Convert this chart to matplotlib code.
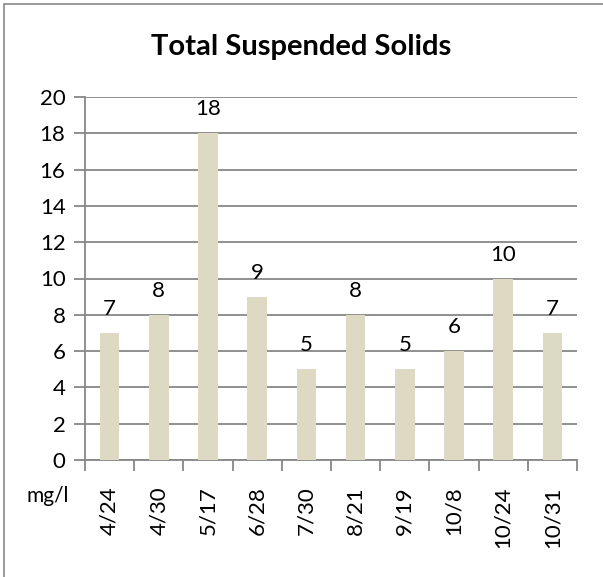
import matplotlib
matplotlib.use('Agg')
import matplotlib.pyplot as plt
from matplotlib.patches import Rectangle

plt.rcParams['font.family'] = ['Lato', 'DejaVu Sans']

# sampling dates and TSS results (mg/l)
dates = ['4/24', '4/30', '5/17', '6/28', '7/30', '8/21', '9/19', '10/8', '10/24', '10/31']
tss = [7, 8, 18, 9, 5, 8, 5, 6, 10, 7]
yticks = [0, 2, 4, 6, 8, 10, 12, 14, 16, 18, 20]

W, H = 603, 577
fig = plt.figure(figsize=(W / 100, H / 100), dpi=100)

# chart border (left/top edges visible)
fig.patches.append(Rectangle((4 / W, -0.01), 1.02, 1.01 - 4 / H,
                             transform=fig.transFigure, fill=False,
                             edgecolor='#898989', linewidth=1.2))

ax = fig.add_axes([85 / W, 1 - 460 / H, (577 - 85) / W, (460 - 97) / H])

grid_col = '#878787'
x = list(range(len(dates)))
ax.bar(x, tss, width=0.4, color='#ddd9c3', zorder=3)

for xi, v in zip(x, tss):
    ax.annotate(str(v), (xi, v), xytext=(0, 10), textcoords='offset points',
                ha='center', va='bottom', fontsize=16, color='black')

ax.set_xlim(-0.5, len(dates) - 0.5)
ax.set_ylim(0, 20)
ax.set_yticks(yticks)
ax.set_yticklabels([str(t) for t in yticks], fontsize=16)
ax.yaxis.grid(True, color=grid_col, linewidth=1.3, zorder=0)

# category ticks sit on boundaries, labels at centres
ax.set_xticks([i - 0.5 for i in range(len(dates) + 1)])
ax.set_xticklabels([])
ax.set_xticks(x, minor=True)
ax.set_xticklabels(dates, minor=True, rotation=90, fontsize=16)
ax.tick_params(axis='x', which='major', length=8, width=1.3, color=grid_col, direction='out')
ax.tick_params(axis='x', which='minor', length=0, pad=19)
ax.tick_params(axis='y', length=8, width=1.3, color=grid_col, pad=6)

for side in ['top', 'right']:
    ax.spines[side].set_visible(False)
for side in ['left', 'bottom']:
    ax.spines[side].set_color(grid_col)
    ax.spines[side].set_linewidth(1.3)

fig.text(0.5, 1 - 47 / H, 'Total Suspended Solids', ha='center', va='center',
         fontsize=21, fontweight='bold')
fig.text(48 / W, 1 - 496 / H, 'mg/l', ha='center', va='center', fontsize=15)

fig.savefig('out.png', dpi=100)
